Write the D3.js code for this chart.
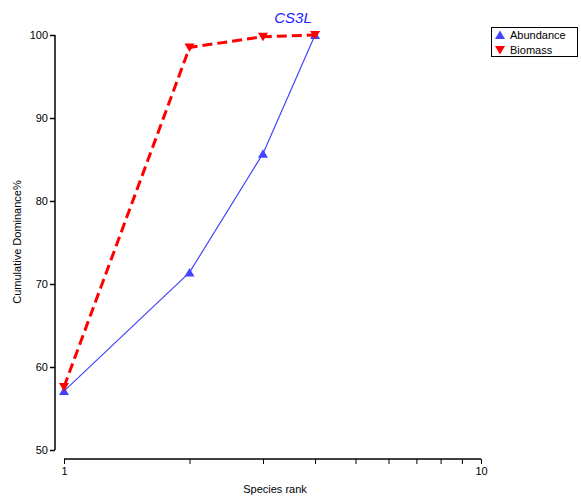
<!DOCTYPE html>
<html><head><meta charset="utf-8">
<script src="https://cdn.jsdelivr.net/npm/d3@7"></script>
<style>body{margin:0;background:#fff;}svg{display:block;font-family:"Liberation Sans",Arial,sans-serif;}</style>
</head><body>
<svg id="c" width="581" height="501"></svg>
<script>
const ranks = [1, 2, 3, 4];
const abundance = [57.1, 71.4, 85.7, 100];
const biomass = [57.6, 98.5, 99.8, 100];
const yTicks = [50, 60, 70, 80, 90, 100];
const xMajor = [1, 10];
const xMinor = [2, 3, 4, 5, 6, 7, 8, 9];
const seriesNames = ["Abundance", "Biomass"];
const title = "CS3L";

const svg = d3.select("#c");
const x = d3.scaleLog().domain([1, 10]).range([64, 481]);
const y = d3.scaleLinear().domain([50, 100]).range([450, 35]);

// Y axis
const ya = svg.append("g").attr("transform", "translate(55,0)")
  .call(d3.axisLeft(y).tickValues(yTicks).tickSize(5).tickPadding(2));
ya.select(".domain").attr("stroke", "#000").attr("stroke-width", 1.5).attr("d", "M0,35V450");
ya.selectAll(".tick line").attr("stroke-width", 1.5);
ya.selectAll("text").attr("font-size", 11).attr("fill", "#000").attr("font-family", "Liberation Sans, Arial");

// X axis
const xa = svg.append("g").attr("transform", "translate(0,459)")
  .call(d3.axisBottom(x).tickValues(xMajor.concat(xMinor)).tickSize(5).tickFormat(d => xMajor.includes(d) ? d : ""));
xa.select(".domain").attr("stroke", "#000").attr("stroke-width", 1.5).attr("d", "M64,0H481");
xa.selectAll(".tick line").attr("stroke-width", 1);
xa.selectAll("text").attr("font-size", 11).attr("fill", "#000").attr("font-family", "Liberation Sans, Arial");

// Labels
svg.append("text").attr("x", 275).attr("y", 493).attr("text-anchor", "middle")
  .attr("font-size", 11).text("Species rank");
svg.append("text").attr("transform", "translate(21,242) rotate(-90)").attr("text-anchor", "middle")
  .attr("font-size", 11).text("Cumulative Dominance%");
svg.append("text").attr("x", 293).attr("y", 23).attr("text-anchor", "middle")
  .attr("font-size", 15).attr("font-style", "italic").attr("fill", "#2222ff").text(title);

const line = d3.line().x(d => x(d[0])).y(d => y(d[1]));
const aData = ranks.map((r, i) => [r, abundance[i]]);
const bData = ranks.map((r, i) => [r, biomass[i]]);

function downPath(s) { return `M${-s},${-s*0.8}L${s},${-s*0.8}L0,${s*0.9}Z`; }
function upPath(s) { return `M${-s},${s*0.8}L${s},${s*0.8}L0,${-s*0.9}Z`; }

svg.append("path").datum(aData).attr("d", line).attr("fill", "none")
  .attr("stroke", "#4444ff").attr("stroke-width", 1.2);
svg.selectAll(".am").data(aData).enter().append("path")
  .attr("transform", d => `translate(${x(d[0])},${y(d[1])})`)
  .attr("d", upPath(5)).attr("fill", "#4444ff");

svg.append("path").datum(bData).attr("d", line).attr("fill", "none")
  .attr("stroke", "#ff0000").attr("stroke-width", 3).attr("stroke-dasharray", "10,5");
svg.selectAll(".bm").data(bData).enter().append("path")
  .attr("transform", d => `translate(${x(d[0])},${y(d[1])})`)
  .attr("d", downPath(5)).attr("fill", "#ff0000");

// Legend
const lg = svg.append("g");
lg.append("rect").attr("x", 491.5).attr("y", 27.5).attr("width", 86).attr("height", 29)
  .attr("fill", "#fff").attr("stroke", "#000").attr("stroke-width", 1);
const lgColors = ["#4444ff", "#ff0000"];
seriesNames.forEach((n, i) => {
  const cy = 35 + i * 15;
  lg.append("path").attr("transform", `translate(500,${cy})`)
    .attr("d", i === 0 ? upPath(5) : downPath(5)).attr("fill", lgColors[i]);
  lg.append("text").attr("x", 510).attr("y", cy + 4).attr("font-size", 11).text(n);
});
</script>
</body></html>
